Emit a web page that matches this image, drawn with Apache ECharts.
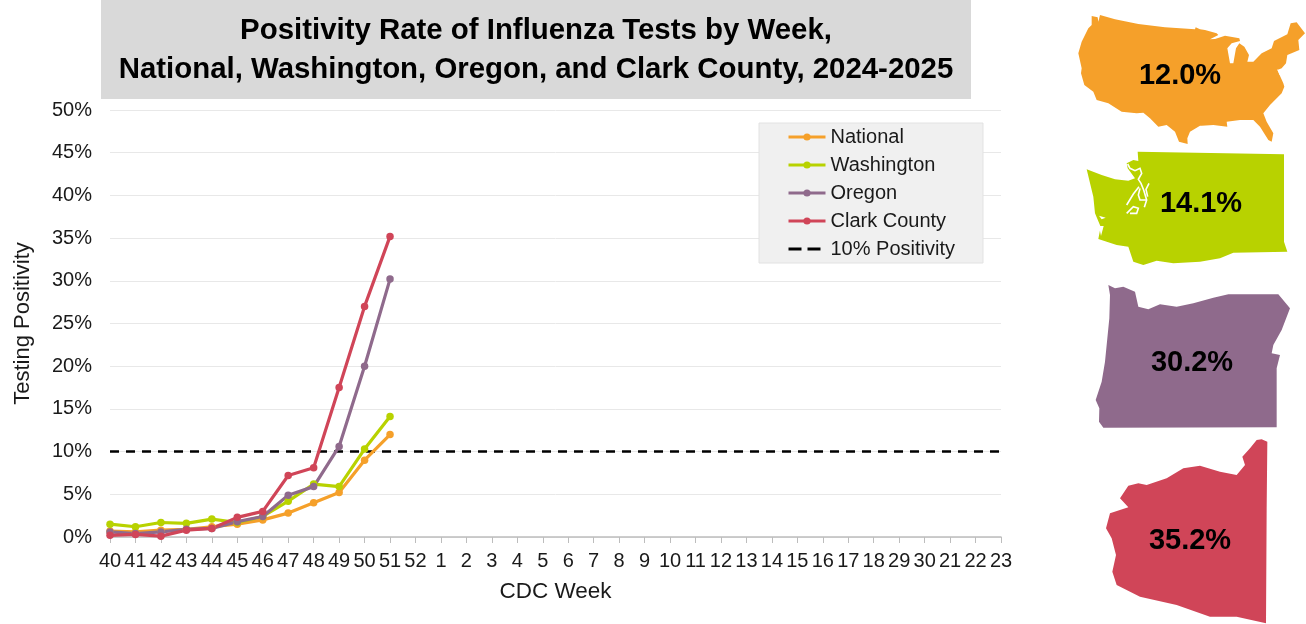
<!DOCTYPE html>
<html><head><meta charset="utf-8">
<style>html,body{margin:0;padding:0;background:#fff}#c{width:1306px;height:624px}</style>
<script src="https://cdn.jsdelivr.net/npm/echarts@6/dist/echarts.min.js"></script>
</head><body><div id="c"></div>
<script>
const weeks = ['40','41','42','43','44','45','46','47','48','49','50','51','52','1','2','3','4','5','6','7','8','9','10','11','12','13','14','15','16','17','18','29','30','21','22','23'];
const national = [0.7,0.6,0.8,0.9,1.2,1.5,2.0,2.8,4.0,5.2,9.0,12.0];
const washington = [1.5,1.2,1.7,1.6,2.1,1.7,2.4,4.2,6.2,5.9,10.3,14.1];
const oregon = [0.6,0.4,0.6,0.9,1.0,1.8,2.4,4.9,5.9,10.6,20.0,30.2];
const clark = [0.2,0.3,0.1,0.8,1.0,2.3,3.0,7.2,8.1,17.5,27.0,35.2];
const threshold = weeks.map(() => 10);
const titleLines = 'Positivity Rate of Influenza Tests by Week,\nNational, Washington, Oregon, and Clark County, 2024-2025';

const FONT = '"Liberation Sans", Arial, sans-serif';
const C = {nat:'#f5a02a', wa:'#b8d200', or:'#8f6a8c', cl:'#d04558'};

// decorative silhouettes, traced in 3x crop coordinates; map() converts a crop to page pixels
const map = (pts, ox, oy) => pts.map(p => [ox + p[0] / 3, oy + p[1] / 3]);
const usTop = map([[75,15],[120,28],[190,42],[270,52],[360,58],[362,52],[375,58]], 1075, 10);
const usEast = map([[15,45],[50,55],[55,60],[30,73],[45,72],[75,62],[118,70],[120,78],[95,85],[82,100],[90,145],[100,145],[108,100],[118,85],[133,95],[147,120],[142,140],[160,140],[185,115],[215,100],[222,78],[262,58],[272,25],[290,22],[315,55],[295,75],[298,105],[262,120],[258,145],[245,160],[232,165],[250,205],[253,215],[245,235],[210,270],[190,295],[200,320],[220,355],[215,380],[205,375],[180,335],[160,315],[120,315],[80,320],[82,335],[40,330],[5,332]], 1200, 15);
const usWest = map([[375,347],[345,365],[337,385],[338,402],[312,395],[300,365],[275,345],[250,350],[225,325],[205,308],[185,310],[140,305],[100,280],[65,270],[55,245],[28,225],[18,190],[20,175],[10,130],[20,95],[40,55],[50,45],[50,18],[68,22],[70,35]], 1075, 10);
const shapeUS = usTop.concat(usEast, usWest);
const holeUS = map([[232,162],[244,172],[250,192],[238,178]], 1200, 15);
const waCoast = map([[5,58],[50,75],[90,88],[130,92],[150,85],[128,55],[125,40],[145,30],[160,33],[158,5]], 1085, 150);
const waRest = map([[672,463],[672,725],[682,755],[520,758],[480,775],[420,785],[340,790],[290,782],[250,795],[220,785],[205,740],[170,735],[115,717],[122,680],[105,640],[100,590]], 1060, 0);
const shapeWA = waCoast.concat(waRest);
const soundWA = [
  [[128,42],[135,55],[150,62],[165,55],[170,70],[160,88],[168,100],[176,120],[185,150],[178,172]],
  [[192,100],[183,118],[188,140]],
  [[162,110],[145,132],[125,165]],
  [[165,115],[160,135],[165,150],[184,150]],
  [[125,190],[145,170],[160,175],[155,190],[135,190]]
].map(s => map(s, 1085, 150));
const coastWA = [
  [[42,197],[62,203],[50,208]],
  [[42,228],[56,228],[48,258]]
].map(s => map(s, 1085, 150));
const shapeOR = map([[145,30],[165,40],[190,35],[225,50],[235,95],[265,103],[300,88],[350,95],[400,85],[460,68],[505,58],[655,58],[690,100],[665,165],[640,210],[635,235],[660,240],[650,280],[650,457],[130,458],[117,440],[118,400],[107,375],[125,320],[135,260],[148,130],[150,60]], 1060, 275);
const shapeCL = map([[590,495],[605,493],[622,500],[620,700],[618,1045],[530,1025],[450,1025],[350,990],[240,965],[170,930],[157,890],[168,840],[155,790],[138,760],[150,715],[205,697],[180,670],[205,632],[235,625],[260,630],[320,610],[370,580],[420,572],[480,590],[530,600],[555,570],[547,545],[570,520]], 1060, 275);

const poly = (pts, fill) => ({type:'polygon', silent:true, shape:{points:pts}, style:{fill}});
const stroke = pts => ({type:'polyline', silent:true, shape:{points:pts}, style:{stroke:'#fff', lineWidth:1.6, fill:null}});
const pct = (v, x, y) => ({type:'text', silent:true, x, y, style:{text:v.toFixed(1)+'%', font:'bold 29px '+FONT, fill:'#000', align:'center', verticalAlign:'middle'}});
const line = (name, data, color) => ({name, type:'line', data, symbol:'circle', symbolSize:7.5, z:3, lineStyle:{color, width:3.2}, itemStyle:{color}});

const chart = echarts.init(document.getElementById('c'), null, {renderer:'canvas'});
chart.setOption({
  animation:false,
  textStyle:{fontFamily:FONT},
  grid:{left:110, right:305, top:110, bottom:87, containLabel:false},
  legend:{
    left:759, top:123, orient:'vertical',
    data:['National','Washington','Oregon','Clark County',
      {name:'10% Positivity', itemStyle:{opacity:0}, lineStyle:{type:[13,6], width:3}}],
    backgroundColor:'#f0f0f0', borderColor:'#e2e2e2', borderWidth:1,
    padding:[4,28,4,28], itemWidth:37, itemHeight:9, itemGap:8,
    lineStyle:{width:3},
    textStyle:{fontSize:20, color:'#1a1a1a', fontFamily:FONT}
  },
  xAxis:{
    type:'category', data:weeks, boundaryGap:false,
    name:'CDC Week', nameLocation:'middle', nameGap:43,
    nameTextStyle:{fontSize:22.5, color:'#1a1a1a', fontFamily:FONT},
    axisLine:{lineStyle:{color:'#bdbdbd', width:1.5}},
    axisTick:{show:true, length:6, alignWithLabel:true, lineStyle:{color:'#bdbdbd'}},
    axisLabel:{interval:0, fontSize:20, color:'#1a1a1a', margin:14, fontFamily:FONT, hideOverlap:false},
    splitLine:{show:false}
  },
  yAxis:{
    type:'value', min:0, max:50, interval:5,
    name:'Testing Positivity', nameLocation:'middle', nameGap:76, nameRotate:90,
    nameTextStyle:{fontSize:22, color:'#1a1a1a', fontFamily:FONT},
    axisLine:{show:false}, axisTick:{show:false},
    axisLabel:{formatter:'{value}%', fontSize:20, color:'#1a1a1a', margin:18, fontFamily:FONT},
    splitLine:{lineStyle:{color:'#e8e8e8', width:1}}
  },
  series:[
    {name:'10% Positivity', type:'line', data:threshold, symbol:'none', z:2,
     lineStyle:{color:'#000', width:2.5, type:[9,7]}, itemStyle:{color:'#000'}},
    line('National', national, C.nat),
    line('Washington', washington, C.wa),
    line('Oregon', oregon, C.or),
    line('Clark County', clark, C.cl)
  ],
  graphic:[
    {type:'rect', silent:true, z:-1, shape:{x:101,y:0,width:870,height:99}, style:{fill:'#d9d9d9'}},
    {type:'text', silent:true, x:536, y:50, style:{text:titleLines, font:'bold 29.4px '+FONT, lineHeight:39, fill:'#000', align:'center', verticalAlign:'middle'}},
    poly(shapeUS,C.nat),
    poly(holeUS,'#fff'),
    poly(shapeWA,C.wa),
    ...soundWA.map(stroke),
    ...coastWA.map(h=>poly(h,'#fff')),
    poly(shapeOR,C.or),
    poly(shapeCL,C.cl),
    pct(national[national.length-1],1180,76),
    pct(washington[washington.length-1],1201,204),
    pct(oregon[oregon.length-1],1192,363),
    pct(clark[clark.length-1],1190,541)
  ]
});
</script></body></html>
